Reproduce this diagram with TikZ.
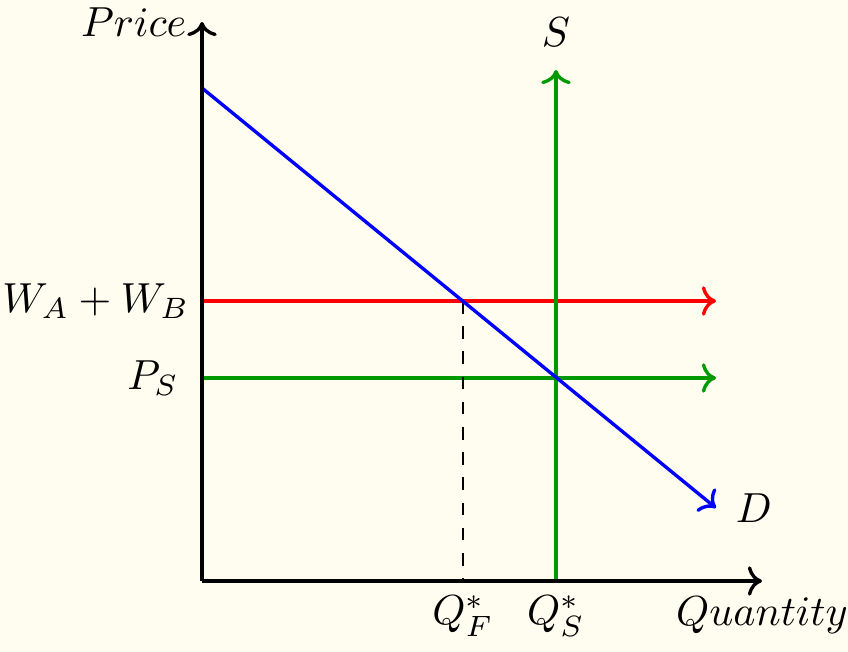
\documentclass[tikz,border=0pt]{standalone}
\usetikzlibrary{arrows.meta}
\definecolor{bgcream}{RGB}{255,253,240}
\definecolor{sgreen}{RGB}{0,153,0}
\begin{document}
\begin{tikzpicture}[x=0.238pt,y=-0.238pt,
  axisline/.style={thick,->},
  curve/.style={thick,->},
  lab/.style={inner sep=3.33pt,text=black}]
\fill[bgcream] (0,0) rectangle (848,652);
\useasboundingbox (0,0) rectangle (848,652);
\coordinate (O) at (202,581);
\coordinate (Ytop) at (202,22);
\coordinate (Xend) at (762,581);
\coordinate (Dstart) at (202,88);
\coordinate (Dend) at (716,508);
\coordinate (Wl) at (202,301);
\coordinate (Wr) at (716,301);
\coordinate (Pl) at (202,378);
\coordinate (Pr) at (716,378);
\coordinate (Sbot) at (556,581);
\coordinate (Stop) at (556,70);
\coordinate (QFtop) at (463,301);
\coordinate (QFbot) at (463,581);
% horizontal lines
\draw[curve,red] (Wl) -- (Wr);
\draw[curve,sgreen] (Pl) -- (Pr);
% dashed
\draw[dashed] (QFtop) -- (QFbot);
% supply
\draw[curve,sgreen] (Sbot) -- (Stop) node[above,lab,yshift=1.8pt] (Slab) {$S$};
% demand
\draw[curve,blue] (Dstart) -- (Dend) node[right,lab,xshift=1pt] (Dlab) {$D$};
% axes
\draw[axisline] (O) -- (Ytop) node[left,lab] (ylab) {$Price$};
\draw[axisline] (O) -- (Xend) node[below,lab] (xlab) {$Quantity$};
% labels
\node[left,lab,xshift=0.5pt] (wlab) at (Wl) {$W_A+W_B$};
\node[left,lab,xshift=-2pt] (plab) at (Pl) {$P_S$};
\node[below,lab] (qf) at (QFbot) {$Q_F^*$};
\node[below,lab] (qs) at (Sbot) {$Q_S^*$};
\end{tikzpicture}
\end{document}
